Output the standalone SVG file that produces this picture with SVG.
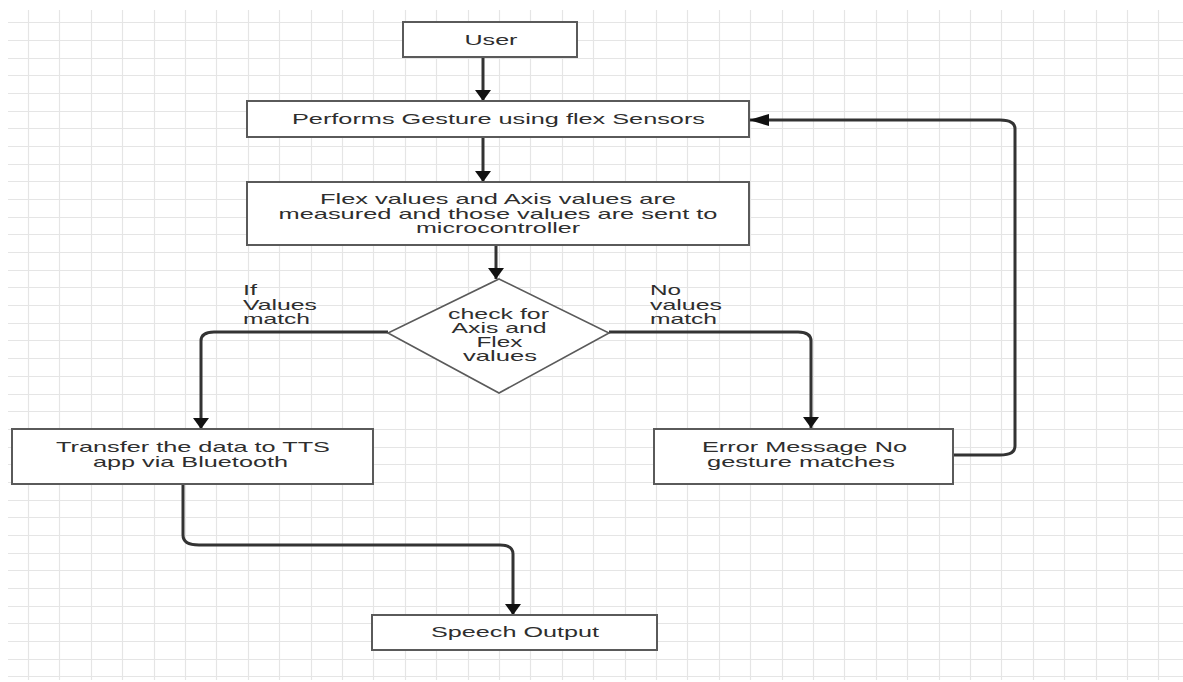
<svg xmlns="http://www.w3.org/2000/svg" width="1183" height="682" viewBox="0 0 1183 682">
<style>
.grid{stroke:#e5e5e5;stroke-width:1.2;fill:none}
.box{fill:#ffffff;stroke:#5a5a5a;stroke-width:2}
.dia{fill:#ffffff;stroke:#5a5a5a;stroke-width:1.6}
.t{font-family:"Liberation Sans",Arial,sans-serif;font-size:14.5px;fill:#2e2e2e}
.c{text-anchor:middle}
.conn{fill:none;stroke:#333333;stroke-width:3}
</style>
<defs>
<marker id="av" markerUnits="userSpaceOnUse" markerWidth="12" markerHeight="17" refX="11" refY="8" orient="auto" viewBox="0 0 12 17">
<path d="M0,0 L11,8 L0,16 Z" fill="#111111"/>
</marker>
<marker id="ah" markerUnits="userSpaceOnUse" markerWidth="21" markerHeight="12" refX="20" refY="6" orient="auto" viewBox="0 0 21 12">
<path d="M0,0 L20,6 L0,12 Z" fill="#111111"/>
</marker>
</defs>
<rect width="1183" height="682" fill="#ffffff"/>
<path class="grid" d="M28.5,10V680M59.5,10V680M91.5,10V680M122.5,10V680M154.5,10V680M185.5,10V680M216.5,10V680M248.5,10V680M279.5,10V680M311.5,10V680M342.5,10V680M373.5,10V680M405.5,10V680M436.5,10V680M468.5,10V680M499.5,10V680M530.5,10V680M562.5,10V680M593.5,10V680M625.5,10V680M656.5,10V680M687.5,10V680M719.5,10V680M750.5,10V680M782.5,10V680M813.5,10V680M844.5,10V680M876.5,10V680M907.5,10V680M939.5,10V680M970.5,10V680M1001.5,10V680M1033.5,10V680M1064.5,10V680M1096.5,10V680M1127.5,10V680M1158.5,10V680M8,22.5H1183M8,40.5H1183M8,58.5H1183M8,75.5H1183M8,93.5H1183M8,111.5H1183M8,128.5H1183M8,146.5H1183M8,164.5H1183M8,181.5H1183M8,199.5H1183M8,217.5H1183M8,234.5H1183M8,252.5H1183M8,270.5H1183M8,287.5H1183M8,305.5H1183M8,323.5H1183M8,340.5H1183M8,358.5H1183M8,376.5H1183M8,394.5H1183M8,411.5H1183M8,429.5H1183M8,447.5H1183M8,464.5H1183M8,482.5H1183M8,500.5H1183M8,517.5H1183M8,535.5H1183M8,553.5H1183M8,570.5H1183M8,588.5H1183M8,606.5H1183M8,623.5H1183M8,641.5H1183M8,659.5H1183M8,676.5H1183"/>
<g id="connectors">
<path class="conn" d="M483,57 L483,101" marker-end="url(#av)"/>
<path class="conn" d="M483,137 L483,182" marker-end="url(#av)"/>
<path class="conn" d="M496,245 L496,279" marker-end="url(#av)"/>
<path class="conn" d="M388,332 L214,332 Q201,332 201,341 L201,429" marker-end="url(#av)"/>
<path class="conn" d="M609,332 L798,332 Q811,332 811,341 L811,428" marker-end="url(#av)"/>
<path class="conn" d="M953,455 L1000,455 Q1015,455 1015,446 L1015,129 Q1015,120 1000,120 L749,120" marker-end="url(#ah)"/>
<path class="conn" d="M183,484 L183,535 Q183,545 199,545 L500,545 Q513,545 513,554 L513,615" marker-end="url(#av)"/>
</g>
<g id="user">
<rect class="box" x="403" y="22" width="174" height="35"/>
<text class="t c" x="491" y="44.5" textLength="53" lengthAdjust="spacingAndGlyphs">User</text>
</g>
<g id="gesture">
<rect class="box" x="247" y="101" width="502" height="36"/>
<text class="t c" x="498.5" y="124" textLength="413" lengthAdjust="spacingAndGlyphs">Performs Gesture using flex Sensors</text>
</g>
<g id="measure">
<rect class="box" x="247" y="182" width="502" height="63"/>
<text class="t c" x="498" y="204" textLength="356" lengthAdjust="spacingAndGlyphs">Flex values and Axis values are</text>
<text class="t c" x="498" y="218.5" textLength="439" lengthAdjust="spacingAndGlyphs">measured and those values are sent to</text>
<text class="t c" x="498" y="233" textLength="164" lengthAdjust="spacingAndGlyphs">microcontroller</text>
</g>
<g id="check">
<path class="dia" d="M499,279 L609,333 L499,393 L388,333 Z"/>
<text class="t c" x="498.5" y="319" textLength="101" lengthAdjust="spacingAndGlyphs">check for</text>
<text class="t c" x="499" y="333" textLength="95" lengthAdjust="spacingAndGlyphs">Axis and</text>
<text class="t c" x="499.5" y="347" textLength="46" lengthAdjust="spacingAndGlyphs">Flex</text>
<text class="t c" x="500" y="361" textLength="74" lengthAdjust="spacingAndGlyphs">values</text>
</g>
<g id="label-yes">
<text class="t" x="243" y="295" textLength="14" lengthAdjust="spacingAndGlyphs">If</text>
<text class="t" x="243" y="310" textLength="74" lengthAdjust="spacingAndGlyphs">Values</text>
<text class="t" x="243" y="324" textLength="67" lengthAdjust="spacingAndGlyphs">match</text>
</g>
<g id="label-no">
<text class="t" x="650" y="295" textLength="31" lengthAdjust="spacingAndGlyphs">No</text>
<text class="t" x="650" y="310" textLength="72" lengthAdjust="spacingAndGlyphs">values</text>
<text class="t" x="650" y="324" textLength="67" lengthAdjust="spacingAndGlyphs">match</text>
</g>
<g id="transfer">
<rect class="box" x="12" y="429" width="361" height="55"/>
<text class="t c" x="193" y="452" textLength="274" lengthAdjust="spacingAndGlyphs">Transfer the data to TTS</text>
<text class="t c" x="190.5" y="466.5" textLength="195" lengthAdjust="spacingAndGlyphs">app via Bluetooth</text>
</g>
<g id="error">
<rect class="box" x="654" y="429" width="299" height="55"/>
<text class="t c" x="804.5" y="452" textLength="205" lengthAdjust="spacingAndGlyphs">Error Message No</text>
<text class="t c" x="801" y="466.5" textLength="188" lengthAdjust="spacingAndGlyphs">gesture matches</text>
</g>
<g id="speech">
<rect class="box" x="372" y="615" width="285" height="35"/>
<text class="t c" x="515" y="637" textLength="168" lengthAdjust="spacingAndGlyphs">Speech Output</text>
</g>
</svg>
